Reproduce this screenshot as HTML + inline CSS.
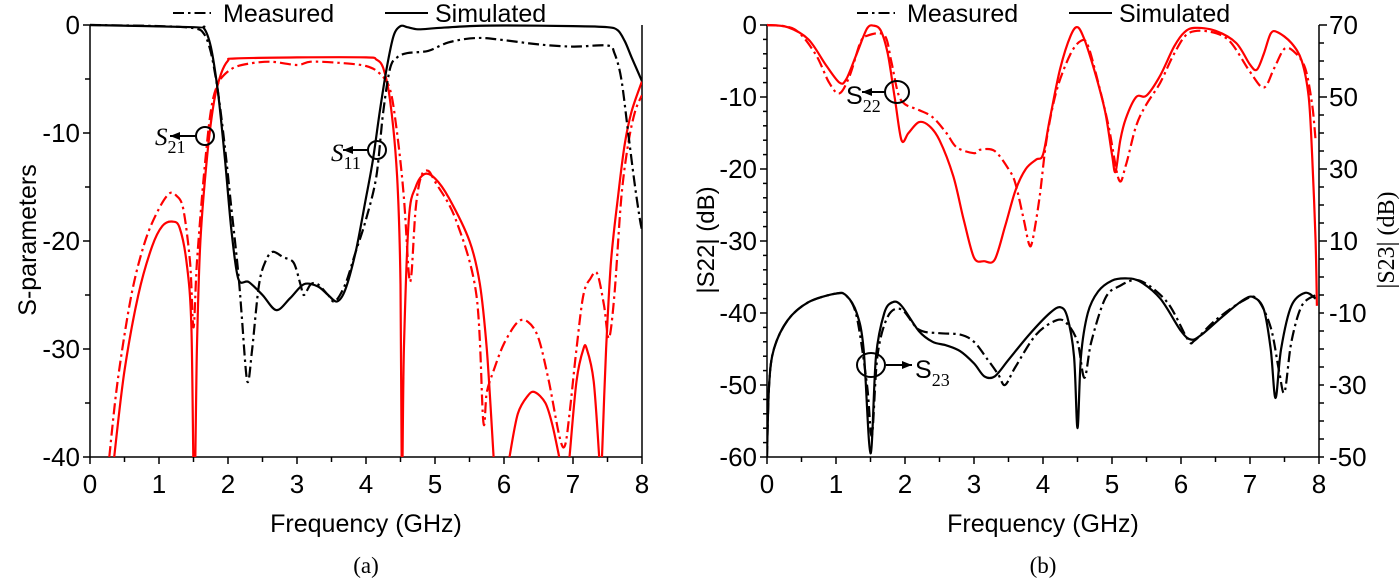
<!DOCTYPE html>
<html><head><meta charset="utf-8"><style>
html,body{margin:0;padding:0;background:#fff;}
svg{display:block;font-family:"Liberation Sans",sans-serif;}
</style></head><body>
<svg id="fig" width="1400" height="578" viewBox="0 0 1400 578" xmlns="http://www.w3.org/2000/svg">
<defs>
<clipPath id="clipA"><rect x="90" y="0" width="552" height="457"/></clipPath>
<clipPath id="clipB"><rect x="767" y="0" width="552" height="457"/></clipPath>
</defs>
<g id="panelA"></g>
<g id="panelB"></g>
</svg>
<script>
// ---------- Panel (a) data ----------
const s11SimF=[0,1.5,1.65,1.75,1.85,1.95,2.05,2.15,2.3,2.5,2.7,2.9,3.1,3.3,3.45,3.58,3.7,3.85,4.0,4.1,4.2,4.3,4.4,4.5,4.6,4.75,5,5.5,6,7,7.5,7.65,7.75,7.85,8];
const s11SimV=[0,-0.2,-0.3,-2,-6,-12,-19,-23.5,-23.8,-25,-26.4,-25.3,-24,-24.2,-25,-25.6,-24.5,-21,-16,-12.5,-8,-4,-1,-0.1,-0.2,-0.4,-0.3,-0.1,-0.05,-0.1,-0.2,-0.5,-1.5,-3,-5.2];
const s11MeasF=[0,1,1.5,1.65,1.75,1.85,1.95,2.05,2.15,2.2,2.28,2.35,2.45,2.55,2.65,2.8,2.95,3.05,3.1,3.2,3.3,3.45,3.55,3.7,3.85,4.0,4.15,4.25,4.35,4.45,4.6,4.9,5.2,5.6,6,6.5,7,7.5,7.6,7.7,7.8,7.9,7.97,8];
const s11MeasV=[0,-0.1,-0.3,-0.8,-2.5,-6,-11,-17,-23,-27,-33,-30,-24,-21.8,-21,-21.5,-22,-24,-25,-24,-24,-25,-25.6,-24,-21,-18,-14,-8,-4,-3,-2.6,-2.4,-1.6,-1.2,-1.4,-1.8,-2,-1.9,-2.6,-5,-10,-15,-18,-19];
const s21SimF=[0.35,0.5,0.7,0.9,1.05,1.2,1.3,1.4,1.47,1.51,1.55,1.6,1.7,1.8,1.9,2.0,2.1,3,4,4.15,4.25,4.35,4.45,4.5,4.52,4.55,4.62,4.72,4.85,5.0,5.2,5.5,5.65,5.75,5.85,null,6.08,6.2,6.35,6.45,6.6,6.7,6.8,null,6.95,7.05,7.15,7.2,7.3,7.38,null,7.42,7.48,7.55,7.65,7.75,7.85,8];
const s21SimV=[-40,-32,-25,-20.5,-18.6,-18.2,-18.8,-22,-28,-44,-30,-20,-12,-7,-4.5,-3.3,-3.1,-3,-3,-3.2,-4,-7,-14,-24,-44,-30,-18,-15,-13.8,-14.2,-16,-20,-24,-30,-40,null,-40,-36,-34.3,-34,-35,-37,-40,null,-40,-33,-30,-30,-33,-40,null,-40,-30,-22,-16,-11,-8,-5.2];
const s21MeasF=[0.28,0.4,0.6,0.8,1.0,1.15,1.25,1.35,1.45,1.5,1.55,1.65,1.75,1.85,2.0,2.2,2.6,3,3.2,3.6,4.0,4.2,4.35,4.45,4.55,4.62,4.66,4.72,4.8,4.9,5.0,5.3,5.6,5.7,5.75,5.85,6.0,6.2,6.35,6.5,6.65,6.8,6.88,6.95,7.05,7.15,7.25,7.35,7.45,7.52,7.6,7.7,7.8,7.9,8];
const s21MeasV=[-40,-33,-25,-20,-17,-15.6,-15.8,-17,-22,-28,-22,-14,-8,-5.5,-4.3,-3.7,-3.4,-3.7,-3.4,-3.5,-3.8,-4.5,-6,-10,-16,-23,-23,-17,-14,-13.5,-14.5,-18,-25,-36.7,-34,-32,-29.5,-27.5,-27.5,-29,-33,-38,-39,-36,-30,-25,-23.5,-23,-26,-29,-25,-16,-11,-8,-6.5];
const aYTicks=[0,-10,-20,-30,-40];
const xTicks=[0,1,2,3,4,5,6,7,8];

// ---------- Panel (b) data ----------
const s22SimF=[0,0.3,0.6,0.85,1.05,1.15,1.3,1.45,1.55,1.65,1.75,1.85,1.95,2.05,2.2,2.35,2.5,2.7,2.85,3.0,3.15,3.3,3.45,3.6,3.75,3.9,4.0,4.1,4.25,4.4,4.5,4.6,4.75,4.9,5.0,5.05,5.12,5.2,5.35,5.5,5.7,5.9,6.05,6.2,6.5,6.8,7.0,7.1,7.2,7.3,7.4,7.6,7.75,7.85,7.9,7.95,7.97];
const s22SimV=[0,-0.3,-2,-5.5,-8,-7.5,-4,-0.5,-0.1,-0.8,-4,-10,-16,-15,-13.5,-14,-16,-21,-27,-32.3,-32.8,-32.6,-28,-23,-20,-18.7,-18,-13,-6,-1.5,-0.3,-2,-6.5,-12,-18,-20.4,-16,-13,-10,-9.8,-7,-3,-1,-0.4,-0.8,-2.5,-5.5,-6.2,-4,-1.2,-1,-2.5,-5,-10,-18,-30,-39];
const s22MeasF=[0,0.4,0.7,0.9,1.05,1.2,1.35,1.45,1.7,1.8,1.9,2.0,2.2,2.4,2.6,2.75,3.0,3.1,3.3,3.5,3.6,3.72,3.8,3.85,3.95,4.05,4.2,4.4,4.55,4.65,4.8,4.95,5.1,5.2,5.35,5.5,5.7,5.9,6.1,6.4,6.7,7.0,7.2,7.35,7.5,7.65,7.8,7.9,7.95];
const s22MeasV=[0,-0.6,-4,-8,-9.5,-7,-2.5,-1.5,-1.4,-5,-9.5,-11,-11.8,-12.8,-15,-17,-17.8,-17.3,-17.5,-20,-22,-27,-30.5,-29.8,-24,-16,-9,-4,-2.2,-2.8,-8,-14,-21.5,-19.5,-14,-11,-8,-4,-1.2,-0.9,-2.2,-6.5,-8.7,-6,-3.3,-3.8,-6,-11,-16];
const s23SimF=[0,0.03,0.1,0.3,0.6,1.0,1.15,1.3,1.4,1.5,1.58,1.7,1.82,1.95,2.2,2.4,2.6,2.8,3.0,3.15,3.3,3.5,3.8,4.1,4.25,4.35,4.45,4.5,4.55,4.65,4.8,5.0,5.2,5.4,5.7,6.0,6.15,6.3,6.6,6.9,7.05,7.2,7.3,7.37,7.45,7.6,7.8,7.95];
const s23SimV=[-50,-30,-20,-12,-7,-4.6,-5.2,-10,-20,-49,-22,-10,-7,-8,-15,-18,-19,-20.6,-24,-27.6,-27.6,-23,-16,-10,-8.4,-11,-22,-42,-22,-10,-4,-1,-0.4,-1.2,-6,-15,-17.4,-16,-11,-6.4,-5.6,-9,-20,-33.6,-20,-8,-4.4,-6];
const s23MeasF=[0,0.03,0.1,0.3,0.6,1.0,1.15,1.3,1.45,1.52,1.6,1.75,1.95,2.2,2.5,2.8,3.0,3.2,3.35,3.45,3.6,3.9,4.2,4.35,4.5,4.6,4.7,4.9,5.1,5.4,5.8,6.1,6.2,6.5,6.9,7.1,7.3,7.42,7.5,7.6,7.75,7.95];
const s23MeasV=[-50,-30,-20,-12,-7,-4.6,-5.2,-11,-30,-44,-22,-11,-9,-14.6,-15.6,-16,-18,-23,-27,-30,-25,-16,-12,-13,-18,-28,-18,-6,-2.6,-1,-7,-17.4,-17.6,-12,-6.6,-6,-14,-26,-32,-18,-8,-5];
const bLeftTicks=[0,-10,-20,-30,-40,-50,-60];
const bRightTicks=[70,50,30,10,-10,-30,-50];

const NS="http://www.w3.org/2000/svg";
function mk(parent,tag,attrs){const e=document.createElementNS(NS,tag);for(const k in attrs)e.setAttribute(k,attrs[k]);parent.appendChild(e);return e;}
function axis(x0,x1,min,max,p0,p1){return v=>p0+(v-min)/(max-min)*(p1-p0);}

function smoothPath(F,V,sx,sy){
  let d="";let seg=[];
  const segs=[];
  for(let i=0;i<F.length;i++){
    if(F[i]===null||V[i]===null){if(seg.length)segs.push(seg);seg=[];continue;}
    seg.push([sx(F[i]),sy(V[i])]);
  }
  if(seg.length)segs.push(seg);
  segs.forEach(p=>{
    d+="M"+p[0][0].toFixed(1)+","+p[0][1].toFixed(1);
    for(let i=0;i<p.length-1;i++){
      const p0=p[Math.max(0,i-1)],p1=p[i],p2=p[i+1],p3=p[Math.min(p.length-1,i+2)];
      const t=0.16;
      const c1=[p1[0]+(p2[0]-p0[0])*t,p1[1]+(p2[1]-p0[1])*t];
      const c2=[p2[0]-(p3[0]-p1[0])*t,p2[1]-(p3[1]-p1[1])*t];
      d+="C"+c1[0].toFixed(1)+","+c1[1].toFixed(1)+" "+c2[0].toFixed(1)+","+c2[1].toFixed(1)+" "+p2[0].toFixed(1)+","+p2[1].toFixed(1);
    }
  });
  return d;
}
const DASH="11 4 2.5 4";

function legend(g,x){
  const l1=mk(g,"line",{x1:x,y1:13,x2:x+38,y2:13,stroke:"#000","stroke-width":2,"stroke-dasharray":DASH});
  
  
  const t1=mk(g,"text",{x:x+50,y:22,"font-size":25});t1.textContent="Measured";
  
  
  const l2=mk(g,"line",{x1:x+212,y1:13,x2:x+255,y2:13,stroke:"#000","stroke-width":2});
  
  
  const t2=mk(g,"text",{x:x+262,y:22,"font-size":25});t2.textContent="Simulated";
  
  
}

function xAxis(g,X0,X1,sx,title,cap){
  mk(g,"line",{x1:X0,y1:457,x2:X1,y2:457,stroke:"#000","stroke-width":1.5});
  for(let v=0;v<=8;v+=0.5){const x=sx(v);mk(g,"line",{x1:x,y1:457,x2:x,y2:(v%1===0)?464:462,stroke:"#000","stroke-width":1.5});}
  xTicks.forEach(v=>{const t=mk(g,"text",{x:sx(v),y:493,"font-size":26,"text-anchor":"middle"});t.textContent=v;
    
    });
  const tt=mk(g,"text",{x:(X0+X1)/2,y:532,"font-size":25,"text-anchor":"middle"});tt.textContent="Frequency (GHz)";
  
  
  const c=mk(g,"text",{x:(X0+X1)/2,y:573,"font-size":23,"text-anchor":"middle","font-family":"Liberation Serif, serif"});c.textContent=cap;
  
  
}

function series(g,F,V,sx,sy,color,dashed,clip,name){
  const p=mk(g,"path",{d:smoothPath(F,V,sx,sy),fill:"none",stroke:color,"stroke-width":2.2,"clip-path":"url(#"+clip+")","stroke-linejoin":"round"});
  if(dashed)p.setAttribute("stroke-dasharray",DASH);
  
  
}

function annot(g,tx,ty,sub,cx,cy,rx,ry,ax1,ax2,italic,serifFamily){
  mk(g,"ellipse",{cx:cx,cy:cy,rx:rx,ry:ry,fill:"none",stroke:"#000","stroke-width":2});
  mk(g,"line",{x1:ax1,y1:cy,x2:ax2,y2:cy,stroke:"#000","stroke-width":2});
  const dir=ax2<ax1?1:-1;
  mk(g,"polygon",{points:`${ax2},${cy} ${ax2+dir*10},${cy-4} ${ax2+dir*10},${cy+4}`,fill:"#000"});
  const t=mk(g,"text",{x:tx,y:ty,"font-size":25,"font-family":serifFamily,"font-style":italic?"italic":"normal"});
  t.appendChild(document.createTextNode("S"));
  const s=mk(t,"tspan",{"font-size":18,dy:8,"font-style":"normal","font-family":"Liberation Serif, serif"});s.textContent=sub;
  
  
}

// ---------- Panel A ----------
(function(){
  const g=document.getElementById("panelA");
  const sx=axis(0,8,0,8,90,642), sy=axis(0,0,0,-40,25,457);
  legend(g,173);
  mk(g,"line",{x1:90,y1:25,x2:90,y2:457,stroke:"#000","stroke-width":1.5});
  mk(g,"line",{x1:642,y1:25,x2:642,y2:457,stroke:"#000","stroke-width":1.5});
  for(let v=0;v>=-40;v-=5){mk(g,"line",{x1:90,y1:sy(v),x2:(v%10===0)?83:85,y2:sy(v),stroke:"#000","stroke-width":1.5});}
  aYTicks.forEach(v=>{const t=mk(g,"text",{x:80,y:sy(v)+9,"font-size":26,"text-anchor":"end"});t.textContent=v;
    
    });
  const yt=mk(g,"text",{x:0,y:0,"font-size":25,"text-anchor":"middle",transform:"translate(36,240) rotate(-90)"});yt.textContent="S-parameters";
  
  
  xAxis(g,90,642,sx,"", "(a)");
  series(g,s21MeasF,s21MeasV,sx,sy,"#f00",true,"clipA","s21-measured");
  series(g,s21SimF,s21SimV,sx,sy,"#f00",false,"clipA","s21-simulated");
  series(g,s11MeasF,s11MeasV,sx,sy,"#000",true,"clipA","s11-measured");
  series(g,s11SimF,s11SimV,sx,sy,"#000",false,"clipA","s11-simulated");
  annot(g,155,145,"21",205,136,9,9,196,170,true,"Liberation Serif, serif");
  annot(g,331,161,"11",377,150,9,9,368,343,true,"Liberation Serif, serif");
})();

// ---------- Panel B ----------
(function(){
  const g=document.getElementById("panelB");
  const sx=axis(0,8,0,8,767,1319), sy=axis(0,0,0,-60,25,457), sr=axis(0,0,70,-50,25,457);
  legend(g,857);
  mk(g,"line",{x1:767,y1:25,x2:767,y2:457,stroke:"#000","stroke-width":1.5});
  mk(g,"line",{x1:1319,y1:25,x2:1319,y2:457,stroke:"#000","stroke-width":1.5});
  for(let v=0;v>=-60;v-=2){mk(g,"line",{x1:767,y1:sy(v),x2:(v%10===0)?760:763,y2:sy(v),stroke:"#000","stroke-width":1.5});}
  for(let v=70;v>=-50;v-=5){mk(g,"line",{x1:1319,y1:sr(v),x2:(v%20===10)?1327:1324,y2:sr(v),stroke:"#000","stroke-width":1.5});}
  bLeftTicks.forEach(v=>{const t=mk(g,"text",{x:757,y:sy(v)+9,"font-size":26,"text-anchor":"end"});t.textContent=v;
    
    });
  bRightTicks.forEach(v=>{const t=mk(g,"text",{x:1329,y:sr(v)+9,"font-size":26,"text-anchor":"start"});t.textContent=v;
    
    });
  const yl=mk(g,"text",{x:0,y:0,"font-size":24,"text-anchor":"middle",transform:"translate(714,240) rotate(-90)"});yl.textContent="|S22| (dB)";
  
  
  const yr=mk(g,"text",{x:0,y:0,"font-size":24,"font-family":"Liberation Serif, serif","text-anchor":"middle",transform:"translate(1394,240) rotate(-90)"});yr.textContent="|S23| (dB)";
  
  
  xAxis(g,767,1319,sx,"","(b)");
  series(g,s22MeasF,s22MeasV,sx,sy,"#f00",true,"clipB","s22-measured");
  series(g,s22SimF,s22SimV,sx,sy,"#f00",false,"clipB","s22-simulated");
  series(g,s23MeasF,s23MeasV,sx,sr,"#000",true,"clipB","s23-measured");
  series(g,s23SimF,s23SimV,sx,sr,"#000",false,"clipB","s23-simulated");
  annot(g,846,104,"22",897,92,12,11,885,862,false,"Liberation Sans, sans-serif");
  annot(g,915,378,"23",871,365,14,12,886,912,false,"Liberation Sans, sans-serif");
})();
</script>
</body></html>
